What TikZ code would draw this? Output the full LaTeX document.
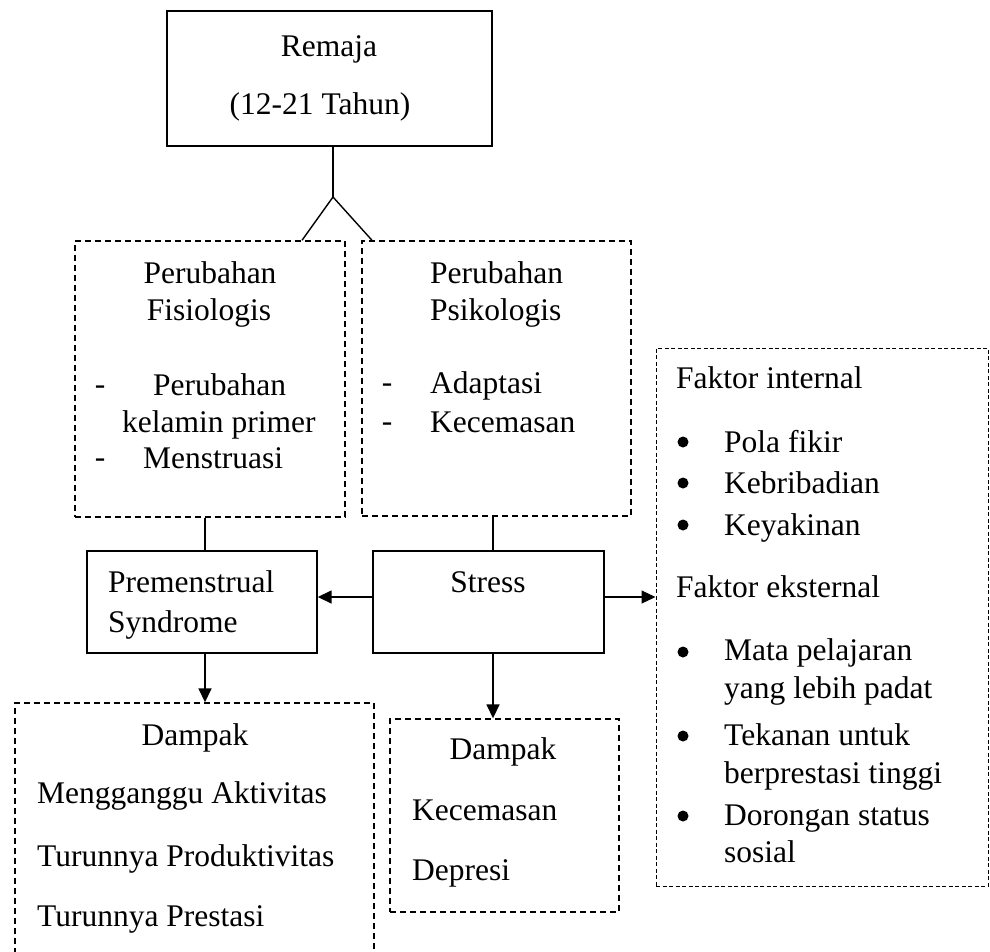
\documentclass[tikz,border=0pt]{standalone}
\usepackage{fontspec}
\setmainfont{Liberation Serif}
\usetikzlibrary{arrows.meta}
\begin{document}
\begin{tikzpicture}[x=1pt,y=-1pt,
  txt/.style={inner sep=0pt, anchor=base, font=\fontsize{31.5}{37}\selectfont},
  txtl/.style={txt, anchor=base west},
  bul/.style={circle, fill, inner sep=0pt, minimum size=11pt},
  solidbox/.style={draw, line width=1.4pt, rectangle, inner sep=0pt},
  dashbox/.style={draw, line width=1.4pt, dash pattern=on 6pt off 4pt, rectangle, inner sep=0pt},
  dotbox/.style={draw, line width=1pt, dash pattern=on 4pt off 2.5pt, rectangle, inner sep=0pt},
  conn/.style={line width=1.4pt},
  arr/.style={line width=1.6pt, -{Triangle[length=14pt,width=13pt]}},
  arrthin/.style={line width=1.1pt, -{Triangle[length=14pt,width=13pt]}},
]
\useasboundingbox (0,0) rectangle (990,951);
\clip (0,0) rectangle (990,951);

% boxes
\node[solidbox, minimum width=325pt, minimum height=135pt] (remaja) at (329.5,78.5) {};
\node[dashbox, minimum width=270pt, minimum height=276pt] (fis) at (210,379) {};
\node[dashbox, minimum width=269pt, minimum height=275pt] (psi) at (496.5,378.5) {};
\node[solidbox, minimum width=230pt, minimum height=102pt] (pms) at (202,602) {};
\node[solidbox, minimum width=231pt, minimum height=102pt] (stress) at (488.5,602) {};
\node[dotbox, minimum width=332pt, minimum height=538pt] (faktor) at (822,617) {};
\node[dashbox, minimum width=359pt, minimum height=277pt] (dpms) at (194.5,841.5) {};
\node[dashbox, minimum width=229pt, minimum height=193pt] (dstress) at (504.5,815.5) {};

% texts: Remaja
\node[txt] (t1) at (329,56) {Remaja};
\node[txt] (t2) at (320,114) {(12-21 Tahun)};

% Fisiologis
\node[txt] (t3) at (210,283) {Perubahan};
\node[txt] (t4) at (209,320) {Fisiologis};
\node[txt] (t5) at (100,394) {-};
\node[txtl] (t6) at (153,395) {Perubahan};
\node[txtl] (t7) at (122,432) {kelamin primer};
\node[txt] (t8) at (100,467) {-};
\node[txtl] (t9) at (143,468) {Menstruasi};

% Psikologis
\node[txtl] (t10) at (430,283) {Perubahan};
\node[txtl] (t11) at (430,320) {Psikologis};
\node[txt] (t12) at (387,392) {-};
\node[txtl] (t13) at (430,393) {Adaptasi};
\node[txt] (t14) at (387,431) {-};
\node[txtl] (t15) at (430,432) {Kecemasan};

% PMS and Stress
\node[txtl] (t16) at (108,592) {Premenstrual};
\node[txtl] (t17) at (108,632) {Syndrome};
\node[txt] (t18) at (488,592) {Stress};

% Faktor
\node[txtl] (t19) at (676,388) {Faktor internal};
\node[bul] (b1) at (683,442) {};
\node[txtl] (t20) at (724,452) {Pola fikir};
\node[bul] (b2) at (683,483) {};
\node[txtl] (t21) at (724,493) {Kebribadian};
\node[bul] (b3) at (683,525) {};
\node[txtl] (t22) at (724,535) {Keyakinan};
\node[txtl] (t23) at (676,597) {Faktor eksternal};
\node[bul] (b4) at (683,652) {};
\node[txtl] (t24) at (724,660) {Mata pelajaran};
\node[txtl] (t25) at (724,698) {yang lebih padat};
\node[bul] (b5) at (683,736) {};
\node[txtl] (t26) at (724,745) {Tekanan untuk};
\node[txtl] (t27) at (724,783) {berprestasi tinggi};
\node[bul] (b6) at (683,816) {};
\node[txtl] (t28) at (724,825) {Dorongan status};
\node[txtl] (t29) at (724,862) {sosial};

% Dampak PMS
\node[txt] (t30) at (195,745) {Dampak};
\node[txtl] (t31) at (37,803) {Mengganggu Aktivitas};
\node[txtl] (t32) at (37,866) {Turunnya Produktivitas};
\node[txtl] (t33) at (37,926) {Turunnya Prestasi};

% Dampak Stress
\node[txt] (t34) at (503,759) {Dampak};
\node[txtl] (t35) at (412,820) {Kecemasan};
\node[txtl] (t36) at (412,880) {Depresi};

% connectors
\coordinate (fork) at (333,197);
\draw[conn] (remaja.south -| fork) -- (fork);
\draw[conn] (fork) -- (fis.north -| 302,0);
\draw[conn] (fork) -- (psi.north -| 372,0);
\draw[conn] (fis.south -| 205,0) -- (pms.north -| 205,0);
\draw[conn] (psi.south -| 493,0) -- (stress.north -| 493,0);
\draw[arr] ([yshift=5pt]stress.west) -- ([yshift=5pt]stress.west -| pms.east);
\draw[arrthin] ([yshift=5pt]stress.east) -- ([yshift=5pt]stress.east -| faktor.west);
\draw[arr] (pms.south -| 205,0) -- (dpms.north -| 205,0);
\draw[arr] (stress.south -| 493,0) -- (dstress.north -| 493,0);
\end{tikzpicture}
\end{document}
